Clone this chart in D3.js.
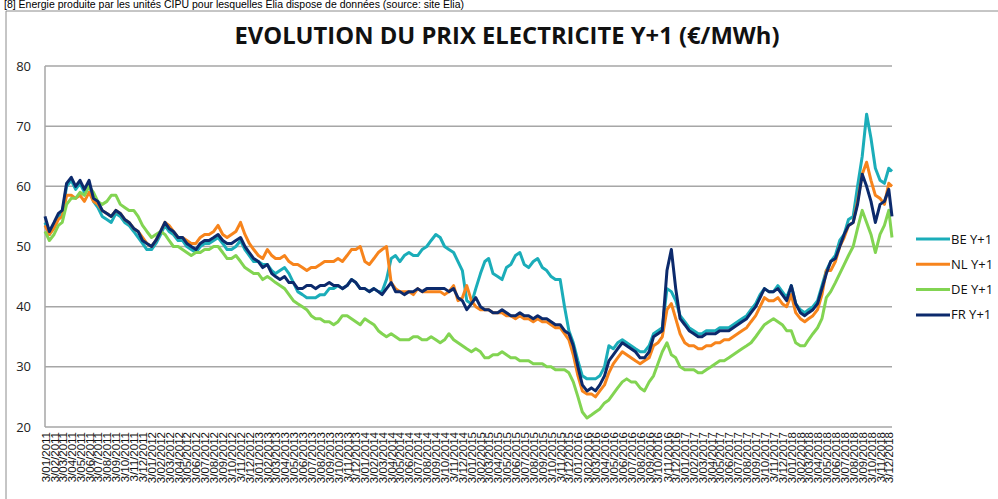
<!DOCTYPE html>
<meta charset="utf-8">
<script src="https://d3js.org/d3.v7.min.js"></script>
<style>
  body { margin: 0; background: #fff; }
  text { font-family: "Open Sans", "Liberation Sans", sans-serif; }
</style>
<div id="my_dataviz"></div>
<script>

// half-month readings (3rd and 18th of each month), Jan 2011 -> Dec 2018
var be = [
  54,52, 53.5,55, 55.5,60, 61,59.5, 60.5,59, 60.5,57.5, 56.5,55, 54.5,54, 55.5,55, 54,53.5, 52.5,51.5, 50.5,49.5,
  49.5,50.5, 52,53.5, 52.5,52, 51,51, 50,49.5, 49,50, 50.5,50.5, 51,51.5, 50.5,49.5, 49.5,50, 51,49.5, 48.5,47.5,
  47.5,47, 47,46, 45.5,46, 46.5,45.5, 44,42.5, 42,41.5, 41.5,41.5, 42,42, 43,43, 43.5,43, 43.5,44.5, 44,43,
  43,42.5, 43,42.5, 42.5,44.5, 48,48.5, 47.5,48.5, 49,48.5, 48.5,49.5, 50,51, 52,51.5, 50,49.5, 49,47.5, 46,41,
  40.5,43, 45.5,47.5, 48,45.5, 45,44.5, 46.5,47, 48.5,49, 47,46.5, 47.5,48, 46.5,46, 45,44.5, 44.5,40, 36,34,
  31,28.5, 28,28, 28,28.5, 30,33.5, 33,34, 34.5,34, 33.5,33, 32.5,32.5, 33.5,35.5, 36,36.5, 43,42.5, 41,38.5,
  37.5,36.5, 36,35.5, 35.5,36, 36,36, 36.5,36.5, 36.5,37, 37.5,38, 38.5,39.5, 40.5,42, 43,42.5, 42.5,43.5, 42.5,41.5,
  43.5,40.5, 39.5,39, 39.5,40, 41,43.5, 46,47.5, 48.5,51, 52,54.5, 55,60, 65,72, 68,63, 61,60.5, 63,62.5
];
var nl = [
  53.5,52, 53,54.5, 55,58.5, 58.5,58, 58.5,57.5, 59,57.5, 57,56, 55.5,55, 56,55.5, 54.5,54, 53,52.5, 51.5,50.5,
  50,51, 52.5,54, 53.5,52.5, 51.5,51.5, 51,50.5, 50.5,51.5, 52,52, 52.5,53.5, 52,51.5, 52,52.5, 54,52, 50.5,49.5,
  48.5,48, 49.5,48.5, 48,48, 48.5,47.5, 47,47, 46.5,46, 46.5,46.5, 47,47.5, 47.5,47.5, 48,47.5, 48.5,49.5, 49.5,50,
  47.5,47, 48,49, 49.5,50, 44,43, 42.5,42.5, 42.5,42, 43,42.5, 42.5,42.5, 42.5,42.5, 42,42.5, 43.5,41, 41.5,43.5,
  41,40, 39.5,39.5, 39.5,39, 39,39, 38.5,38.5, 38,38.5, 38,38, 37.5,38, 37.5,37.5, 37,36.5, 36.5,35.5, 34.5,32,
  28.5,26, 25.5,25.5, 25,26, 27,29, 30.5,31.5, 32.5,32, 31.5,31, 30.5,31, 31.5,33.5, 34,35, 39.5,40.5, 38,35.5,
  34,33.5, 33.5,33, 33,33.5, 33.5,34, 34,34.5, 34.5,35, 35.5,36, 36.5,37.5, 38.5,40, 41.5,41, 41,41.5, 40.5,40,
  42,39, 38,37.5, 38,38.5, 39.5,42, 46,46, 47.5,50, 51.5,53.5, 54,57.5, 62,64, 61,58.5, 58,57, 60.5,60
];
var de = [
  52.5,51, 52,53.5, 54,57, 58,58, 59,58.5, 60,59, 57.5,57, 57.5,58.5, 58.5,57, 56.5,56, 56,55, 53.5,52.5,
  51.5,52, 52.5,52, 51,50, 50,49.5, 49,48.5, 49,49, 49.5,49.5, 50,50, 49,48, 48,48.5, 47.5,46.5, 46,45.5,
  45.5,44.5, 45,44.5, 44,43.5, 43,42, 41,40.5, 40,39.5, 38.5,38, 38,37.5, 37.5,37, 37.5,38.5, 38.5,38, 37.5,37,
  38,37.5, 37,36, 35.5,35, 35.5,35, 34.5,34.5, 34.5,35, 35,34.5, 34.5,35, 34.5,34, 34.5,35.5, 34.5,34, 33.5,33,
  32.5,33, 32.5,31.5, 31.5,32, 32,32.5, 32,31.5, 31.5,31, 31,31, 30.5,30.5, 30.5,30, 30,29.5, 29.5,29.5, 29,27.5,
  25,22.5, 21.5,22, 22.5,23, 24,24.5, 25.5,26.5, 27.5,28, 27.5,27.5, 26.5,26, 27.5,28.5, 30.5,32.5, 34,32, 31.5,30,
  29.5,29.5, 29.5,29, 29,29.5, 30,30.5, 31,31, 31.5,32, 32.5,33, 33.5,34, 35,36, 37,37.5, 38,37.5, 37,36,
  36,34, 33.5,33.5, 34.5,35.5, 36.5,38, 41.5,42.5, 44,45.5, 47,48.5, 50,53, 56,54, 52,49, 52,53.5, 56,51.5
];
var fr = [
  55,52.5, 54,55.5, 56,60.5, 61.5,60, 61,59.5, 61,58, 57.5,56, 55.5,55, 56,55.5, 54.5,54, 53,52.5, 51,50.5,
  50,51, 52.5,54, 53,52.5, 51.5,51.5, 50.5,50, 49.5,50.5, 51,51, 51.5,52, 51,50.5, 50.5,51, 51.5,50, 49,48,
  47.5,46.5, 47,45.5, 45,44.5, 45,44, 44,43, 43,43.5, 43.5,43, 43.5,43.5, 44,43.5, 43.5,43, 43.5,44.5, 44,43,
  43,42.5, 43,42.5, 42,43, 44,42.5, 42.5,42, 42.5,42.5, 43,42.5, 43,43, 43,43, 43,42.5, 43,41.5, 41,39.5,
  40.5,41.5, 40,39.5, 39.5,39, 39,39.5, 39,38.5, 38.5,39, 38.5,38.5, 38,38.5, 38,38, 37.5,37, 37,36, 35.5,33.5,
  30,27, 26,26.5, 26,27, 28.5,31, 32,33, 34,33.5, 33,32.5, 31.5,31.5, 32.5,35, 35.5,36, 46,49.5, 43,38,
  37,36, 35.5,35, 35,35.5, 35.5,35.5, 36,36, 36,36.5, 37,37.5, 38,39, 40,41.5, 43,42.5, 42.5,43, 42,41,
  43.5,40.5, 39,38.5, 39,39.5, 40.5,43, 45.5,47.5, 48,50, 52,53.5, 54,57, 62,60, 57.5,54, 57,57.5, 59.5,55
];

var seriesNames = ["BE Y+1", "NL Y+1", "DE Y+1", "FR Y+1"];
var seriesColors = ["#1badb9", "#f7841c", "#82d452", "#0c2a6c"];
var yTicks = [20, 30, 40, 50, 60, 70, 80];

// dates of the readings: 3rd and 18th of each month, last one 14/12/2018
var dates = be.map(function(d, i) {
  var m = Math.floor(i / 2);
  var day = i % 2 ? 18 : 3;
  if (i == be.length - 1) day = 14;
  return new Date(2011, m, day);
});
// one label per month, on the 3rd
var tickDates = d3.timeMonth.range(new Date(2011, 0, 1), new Date(2019, 0, 1))
  .map(function(d) { return new Date(d.getFullYear(), d.getMonth(), 3); });
var fmt = d3.timeFormat("%-d/%m/%Y");

var W = 998, H = 499;
var margin = {top: 66, right: 106, bottom: 72, left: 45},
    width = W - margin.left - margin.right,
    height = H - margin.top - margin.bottom;

var svgRoot = d3.select("#my_dataviz").append("svg")
  .attr("width", W).attr("height", H);

// note above the chart
svgRoot.append("text")
  .attr("x", 4).attr("y", 8)
  .attr("textLength", 460).attr("lengthAdjust", "spacingAndGlyphs")
  .style("font-size", "10px").style("font-family", "'Liberation Sans', sans-serif")
  .text("[8] Énergie produite par les unités CIPU pour lesquelles Elia dispose de données (source: site Elia)");

// chart area border
svgRoot.append("path")
  .attr("d", "M6,499V11H998")
  .attr("fill", "none").attr("stroke", "#8c8c8c").attr("stroke-width", 1);

svgRoot.append("text")
  .attr("x", 507).attr("y", 44)
  .attr("text-anchor", "middle")
  .attr("textLength", 545).attr("lengthAdjust", "spacingAndGlyphs")
  .style("font-size", "23px").style("font-weight", "bold").style("fill", "#111")
  .text("EVOLUTION DU PRIX ELECTRICITE Y+1 (€/MWh)");

var svg = svgRoot.append("g")
  .attr("transform", "translate(" + margin.left + "," + margin.top + ")");

var x = d3.scaleTime()
  .domain([dates[0], dates[dates.length - 1]])
  .range([0, width]);
var y = d3.scaleLinear().domain([20, 80]).range([height, 0]);

// gridlines
svg.selectAll(".grid").data(yTicks).enter().append("line")
  .attr("x1", 0).attr("x2", width)
  .attr("y1", function(d) { return y(d); }).attr("y2", function(d) { return y(d); })
  .attr("stroke", "#a6a6a6").attr("stroke-width", 1.5);
svg.append("line").attr("x1", 0).attr("x2", 0).attr("y1", 0).attr("y2", height)
  .attr("stroke", "#a6a6a6").attr("stroke-width", 1.5);

// y axis labels
svg.selectAll(".ylab").data(yTicks).enter().append("text")
  .attr("x", -14).attr("y", function(d) { return y(d); })
  .attr("dy", "0.35em").attr("text-anchor", "end")
  .style("font-size", "13px").style("fill", "#222")
  .text(function(d) { return d; });

// x axis labels, rotated
var xAxis = svg.append("g")
  .attr("transform", "translate(0," + height + ")")
  .call(d3.axisBottom(x).tickValues(tickDates).tickFormat(fmt).tickSize(0).tickPadding(5));
xAxis.select(".domain").remove();
xAxis.selectAll("text")
  .attr("transform", "rotate(-90)")
  .attr("x", -5).attr("y", 0).attr("dy", "0.35em")
  .style("text-anchor", "end")
  .style("font-size", "11.5px").style("fill", "#111")
  .style("font-family", "'Liberation Sans', sans-serif");

// lines
var allSeries = [be, nl, de, fr];
var line = d3.line()
  .x(function(d, i) { return x(dates[i]); })
  .y(function(d) { return y(d); });

allSeries.forEach(function(s, i) {
  svg.append("path")
    .datum(s)
    .attr("fill", "none")
    .attr("stroke", seriesColors[i])
    .attr("stroke-width", 3)
    .attr("stroke-linejoin", "round")
    .attr("d", line);
});

// legend
var legend = svgRoot.append("g").attr("transform", "translate(916,239)");
seriesNames.forEach(function(n, i) {
  legend.append("line")
    .attr("x1", 0).attr("x2", 34)
    .attr("y1", i * 25.3).attr("y2", i * 25.3)
    .attr("stroke", seriesColors[i]).attr("stroke-width", 3);
  legend.append("text")
    .attr("x", 35).attr("y", i * 25.3).attr("dy", "0.35em")
    .style("font-size", "13px").style("fill", "#111")
    .text(n);
});

</script>
